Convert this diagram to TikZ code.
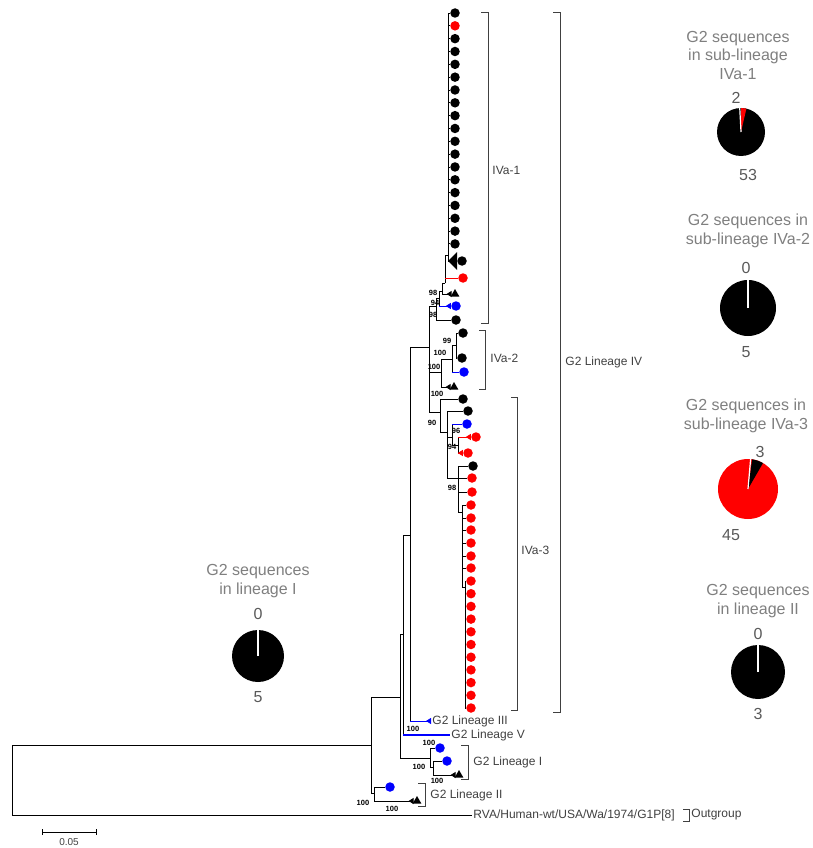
\documentclass[tikz,border=0pt]{standalone}
\usepackage{fontspec}
\setmainfont{Liberation Sans}
\usetikzlibrary{arrows.meta,shapes.geometric}
\definecolor{titlegrey}{HTML}{7F7F7F}
\definecolor{numgrey}{HTML}{595959}
\definecolor{cladegrey}{HTML}{404040}
\tikzset{
  leafdot/.style={circle,fill,inner sep=0pt,minimum size=9.5pt},
  leaftri/.style={regular polygon,regular polygon sides=3,fill,inner sep=0pt,minimum size=10pt},
  boot/.style={font=\fontsize{7.5}{8}\selectfont\bfseries,inner sep=0pt},
  clade/.style={font=\fontsize{12}{14}\selectfont,text=cladegrey,anchor=west,inner sep=1pt},
  pietitle/.style={font=\fontsize{16}{18.5}\selectfont,text=titlegrey,align=center,inner sep=0pt},
  pienum/.style={font=\fontsize{16}{18}\selectfont,text=numgrey,inner sep=0pt},
  wedge/.style={-{Triangle[reversed,length=5pt,width=6pt]}}
}
\begin{document}
\begin{tikzpicture}[x=1pt,y=-1pt,line width=0.9pt]
\useasboundingbox (0,0) rectangle (812,848);

% inner nodes of the tree
\coordinate (root) at (12,745);
\coordinate (R) at (371,745);
\coordinate (A) at (400,697);
\coordinate (B) at (403,634);
\coordinate (C) at (410,535);
\coordinate (D) at (429,347);
\coordinate (N1) at (436,306);
\coordinate (N2) at (439,298);
\coordinate (N3) at (442,291);
\coordinate (N4) at (445,283);
\coordinate (N5) at (448,255);
\coordinate (P) at (441,372);
\coordinate (Q) at (452,359);
\coordinate (Q2) at (456,345);
\coordinate (E) at (440,412);
\coordinate (F) at (447,432);
\coordinate (G) at (452,437);
\coordinate (G2) at (458,445);
\coordinate (H) at (458,478);
\coordinate (I) at (462,512);
\coordinate (J) at (465,587);
\coordinate (LI) at (430,758);
\coordinate (LI2) at (433,767);
\coordinate (L2) at (374,793);

% backbone
\draw (root) |- (R);
\draw (R) |- (A);
\draw (R) |- (L2);
\draw (A) |- (B);
\draw (A) |- (LI);
\draw (B) |- (C);
\draw (C) |- (D);
\draw (D) |- (N1);
\draw (D) |- (P);
\draw (D) |- (E);

% sub-lineage IVa-1
\foreach \c [count=\i from 0] in {black,red,black,black,black,black,black,black,black,black,black,black,black,black,black,black,black,black,black}{
  \node[leafdot,fill=\c] (a\i) at (455,{13+12.83*\i}) {};
  \draw (N5) |- (a\i);
}
\node[leafdot] (a19) at (462,261) {};
\draw (N5) |- (a19);
\fill (448,261) -- (457,252) -- (457,270) -- cycle;
\node[leafdot,red] (r1) at (463,278) {};
\node[leaftri] (t1) at (455,294) {};
\node[leafdot,blue] (b1) at (456,306) {};
\node[leafdot] (k1) at (456,320) {};
\draw (N4) |- (N5);
\draw (N4) -- (N4 |- r1);
\draw[red] (N4 |- r1) -- (r1);
\draw (N3) |- (N4);
\draw[wedge] (N3) |- (t1);
\draw (N2) |- (N3);
\draw (N2) -- (N2 |- b1);
\draw[blue,wedge] (N2 |- b1) -- (b1);
\draw (N1) |- (N2);
\draw (N1) |- (k1);
\node[boot] at (433,293) {98};
\node[boot] at (435,303) {94};
\node[boot] at (433,315) {98};

% sub-lineage IVa-2
\node[leafdot] (k2) at (463,333) {};
\node[leafdot] (k3) at (462,358) {};
\node[leafdot,blue] (b2) at (464,372) {};
\node[leaftri] (t2) at (454,387) {};
\draw (Q2) |- (k2);
\draw (Q2) |- (k3);
\draw (Q) |- (Q2);
\draw (Q) -- (Q |- b2);
\draw[blue] (Q |- b2) -- (b2);
\draw (P) |- (Q);
\draw[wedge] (P) |- (t2);
\node[boot] at (447,341) {99};
\node[boot] at (440,353) {100};
\node[boot] at (434,367) {100};

% sub-lineage IVa-3
\node[leafdot] (k4) at (463,399) {};
\node[leafdot] (k5) at (468,411) {};
\node[leafdot,blue] (b3) at (467,424) {};
\node[leafdot,red] (r2) at (476,437) {};
\node[leafdot,red] (r3) at (468,453) {};
\node[leafdot] (k6) at (473,466) {};
\node[leafdot,red] (r4) at (472,478) {};
\node[leafdot,red] (r5) at (472,492) {};
\draw (E) |- (k4);
\draw (E) |- (F);
\draw (F) |- (k5);
\draw (F) |- (G);
\draw (F) |- (H);
\draw (G) -- (G |- b3);
\draw[blue] (G |- b3) -- (b3);
\draw (G) |- (G2);
\draw (G2) -- (G2 |- r2);
\draw[red,wedge] (G2 |- r2) -- (r2);
\draw (G2) -- (G2 |- r3);
\draw[red,wedge] (G2 |- r3) -- (r3);
\draw (H) |- (k6);
\draw (H) |- (r4);
\draw (H) |- (r5);
\draw (H) |- (I);
\foreach \y [count=\i] in {505,518,530,543,556,568}{
  \node[leafdot,red] (i\i) at (471,\y) {};
  \draw (I) |- (i\i);
}
\draw (I) |- (J);
\foreach \i in {0,...,10}{
  \node[leafdot,red] (j\i) at (471,{581+12.7*\i}) {};
  \draw (J) |- (j\i);
}
\node[boot] at (437,394) {100};
\node[boot] at (432,423) {90};
\node[boot] at (456,431) {96};
\node[boot] at (452,447) {94};
\node[boot] at (452,488) {98};

% lineages III and V
\coordinate (l3) at (431,721);
\coordinate (l5) at (450,735);
\draw (C) -- (C |- l3);
\draw[blue,wedge] (C |- l3) -- (l3);
\draw (B) -- (B |- l5);
\draw[blue,line width=1.2pt] (B |- l5) -- (l5);
\node[clade] (l3lab) at (l3) {G2 Lineage III};
\node[clade] (l5lab) at (l5) {G2 Lineage V};
\node[boot] at (413,729) {100};

% lineage I
\node[leafdot,blue] (b4) at (440,748) {};
\node[leafdot,blue] (b5) at (447,761) {};
\node[leaftri] (t3) at (459,775) {};
\draw (LI) |- (b4);
\draw (LI) |- (LI2);
\draw (LI2) |- (b5);
\draw[wedge] (LI2) |- (t3);
\node[boot] at (429,743) {100};
\node[boot] at (419,767) {100};
\node[boot] at (437,781) {100};

% lineage II
\node[leafdot,blue] (b6) at (390,787) {};
\node[leaftri] (t4) at (417,801) {};
\draw (L2) |- (b6);
\draw[wedge] (L2) |- (t4);
\node[boot] at (363,803) {100};
\node[boot] at (392,809) {100};

% outgroup
\node[clade] (wa) at (472,815) {RVA/Human-wt/USA/Wa/1974/G1P[8]};
\draw (root) |- (wa);

% brackets
\draw[cladegrey] (481,12) -- (488,12) -- (488,323) -- (481,323);
\node[clade] at (491,170) {IVa-1};
\draw[cladegrey] (479,330) -- (485,330) -- (485,389) -- (479,389);
\node[clade] at (489,358) {IVa-2};
\draw[cladegrey] (511,397) -- (517,397) -- (517,710) -- (511,710);
\node[clade] at (520,550) {IVa-3};
\draw[cladegrey] (553,12) -- (560,12) -- (560,712) -- (553,712);
\node[clade] at (564,362) {G2 Lineage IV};
\draw[cladegrey] (461,745) -- (468,745) -- (468,779) -- (461,779);
\node[clade] at (472,762) {G2 Lineage I};
\draw[cladegrey] (418,783) -- (425,783) -- (425,806) -- (418,806);
\node[clade] at (429,795) {G2 Lineage II};
\draw[cladegrey] (683,809) -- (689,809) -- (689,821) -- (683,821);
\node[clade] at (690,815) {Outgroup};

% scale bar
\draw (42,832) -- (96,832);
\draw (42,829) -- (42,835);
\draw (96,829) -- (96,835);
\node[font=\fontsize{10}{12}\selectfont,text=cladegrey] at (69,842) {0.05};

% pie charts
\node[pietitle] at (738,55) {G2 sequences\\in sub-lineage\\IVa-1};
\node[pienum] at (736,98) {2};
\fill (741,132) circle (24);
\fill[red] (741,132) -- ++(270:24) arc[start angle=270,end angle=283,radius=24] -- cycle;
\draw[white,line width=1.2pt] (741,132) -- ++(267:24);
\node[pienum] at (748,175) {53};

\node[pietitle] at (748,231) {G2 sequences in\\sub-lineage IVa-2};
\node[pienum] at (746,268) {0};
\fill (748,308) circle (28);
\draw[white,line width=1.2pt] (748,308) -- ++(270:28);
\node[pienum] at (746,352) {5};

\node[pietitle] at (746,416) {G2 sequences in\\sub-lineage IVa-3};
\node[pienum] at (760,452) {3};
\fill[red] (748,489) circle (30);
\fill (748,489) -- ++(278:30) arc[start angle=278,end angle=300,radius=30] -- cycle;
\draw[white,line width=1.2pt] (748,489) -- ++(275:30);
\node[pienum] at (731,535) {45};

\node[pietitle] at (758,601) {G2 sequences\\in lineage II};
\node[pienum] at (758,634) {0};
\fill (758,672) circle (27);
\draw[white,line width=1.2pt] (758,672) -- ++(270:27);
\node[pienum] at (758,714) {3};

\node[pietitle] at (258,581) {G2 sequences\\in lineage I};
\node[pienum] at (258,614) {0};
\fill (258,656) circle (26);
\draw[white,line width=1.2pt] (258,656) -- ++(270:26);
\node[pienum] at (258,697) {5};
\end{tikzpicture}
\end{document}
